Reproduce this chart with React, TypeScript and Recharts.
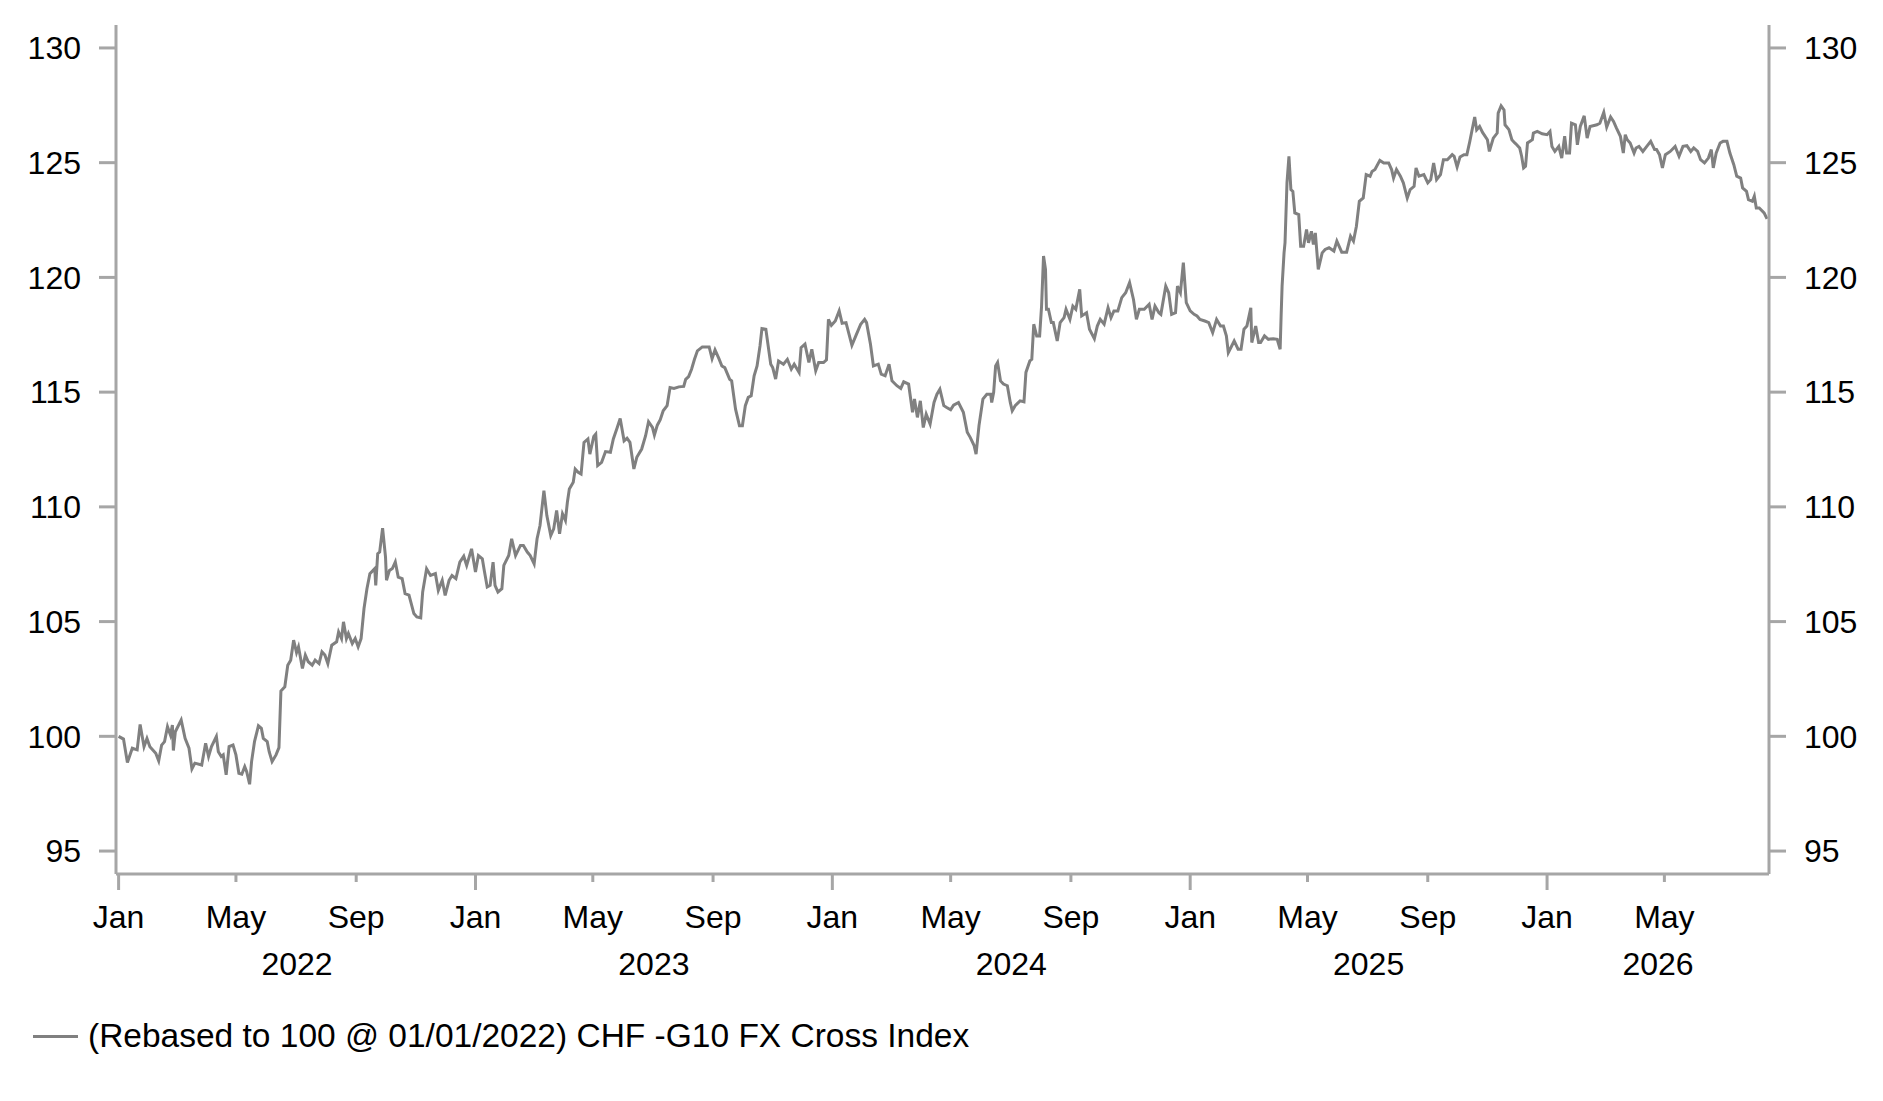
import React from 'react';
import { LineChart, Line, XAxis, YAxis } from 'recharts';

const FONT = '"Liberation Sans", Arial, Helvetica, sans-serif';
const AXIS_COLOR = '#a6a6a6';
const LINE_COLOR = '#808080';

const seriesName = '(Rebased to 100 @ 01/01/2022) CHF -G10 FX Cross Index';

// ---- series: dates (MM-DD within each year) and index values ----
const days2022 = [
  '01-01', '01-06', '01-10', '01-15', '01-20', '01-23', '01-27', '01-30', '02-02', '02-08',
  '02-11', '02-14', '02-17', '02-20', '02-23', '02-25', '02-26', '02-28', '03-06', '03-10',
  '03-14', '03-17', '03-20', '03-27', '03-31', '04-03', '04-06', '04-11', '04-13', '04-16',
  '04-18', '04-21', '04-24', '04-28', '05-01', '05-04', '05-07', '05-10', '05-12', '05-15',
  '05-17', '05-20', '05-24', '05-27', '05-29', '06-02', '06-04', '06-07', '06-11', '06-14',
  '06-16', '06-20', '06-23', '06-26', '06-29', '07-02', '07-04', '07-08', '07-11', '07-14',
  '07-18', '07-21', '07-25', '07-28', '07-31', '08-03', '08-07', '08-12', '08-14', '08-17',
  '08-19', '08-22', '08-24', '08-28', '08-31', '09-03', '09-06', '09-09', '09-12', '09-15',
  '09-20', '09-21', '09-23', '09-25', '09-28', '10-01', '10-02', '10-05', '10-08', '10-11',
  '10-14', '10-18', '10-21', '10-25', '10-30', '11-02', '11-06', '11-08', '11-12', '11-16',
  '11-21', '11-24', '11-28', '12-01', '12-05', '12-08', '12-12', '12-16', '12-20', '12-23',
  '12-28',
];
const vals2022 = [
  100.0, 99.88, 98.86, 99.48, 99.41, 100.52, 99.55, 99.91, 99.55, 99.26,
  98.93, 99.62, 99.77, 100.42, 100.06, 100.49, 99.38, 100.2, 100.71, 99.91,
  99.48, 98.58, 98.83, 98.75, 99.7, 99.12, 99.55, 99.99, 99.33, 99.12,
  99.19, 98.32, 99.55, 99.62, 99.19, 98.39, 98.35, 98.68, 98.46, 97.91,
  98.9, 99.77, 100.46, 100.35, 99.91, 99.77, 99.33, 98.9, 99.19, 99.51,
  101.97, 102.16, 103.1, 103.32, 104.19, 103.65, 103.9, 102.96, 103.54, 103.25,
  103.1, 103.32, 103.17, 103.68, 103.54, 103.17, 103.97, 104.12, 104.55, 104.26,
  104.99, 104.26, 104.48, 104.04, 104.26, 103.9, 104.26, 105.57, 106.43, 107.09,
  107.31, 106.58, 107.96, 108.03, 109.07, 107.81, 106.8, 107.23, 107.31, 107.6,
  106.94, 106.87, 106.22, 106.15, 105.35, 105.2, 105.16, 106.29, 107.3, 107.01,
  107.09, 106.36, 106.8, 106.14, 106.8, 107.01, 106.87, 107.59, 107.85, 107.45,
  108.17,
];

const days2023 = [
  '01-01', '01-04', '01-08', '01-10', '01-13', '01-16', '01-19', '01-21', '01-24', '01-28',
  '01-30', '02-04', '02-07', '02-11', '02-16', '02-19', '02-23', '02-26', '03-02', '03-05',
  '03-08', '03-12', '03-15', '03-19', '03-22', '03-25', '03-28', '03-31', '04-03', '04-05',
  '04-07', '04-11', '04-13', '04-16', '04-19', '04-22', '04-26', '04-28', '05-02', '05-04',
  '05-06', '05-10', '05-14', '05-19', '05-22', '05-26', '05-29', '06-02', '06-05', '06-08',
  '06-12', '06-15', '06-20', '06-24', '06-27', '07-01', '07-03', '07-06', '07-09', '07-12',
  '07-16', '07-19', '07-23', '07-28', '08-02', '08-04', '08-07', '08-10', '08-13', '08-16',
  '08-21', '08-28', '08-31', '09-03', '09-07', '09-10', '09-13', '09-18', '09-20', '09-24',
  '09-28', '10-01', '10-04', '10-07', '10-10', '10-13', '10-16', '10-19', '10-21', '10-25',
  '10-30', '11-01', '11-04', '11-07', '11-12', '11-16', '11-20', '11-23', '11-28', '11-30',
  '12-04', '12-08', '12-11', '12-15', '12-18', '12-23', '12-26', '12-28', '12-31',
];
const vals2023 = [
  107.16, 107.88, 107.74, 107.23, 106.51, 106.58, 107.59, 106.58, 106.29, 106.43,
  107.45, 107.88, 108.61, 107.88, 108.32, 108.32, 108.03, 107.88, 107.52, 108.61,
  109.19, 110.71, 109.62, 108.75, 109.04, 109.84, 108.83, 109.7, 109.41, 110.2,
  110.78, 111.07, 111.65, 111.51, 111.43, 112.81, 112.96, 112.3, 113.07, 113.17,
  111.8, 111.94, 112.41, 112.38, 112.96, 113.46, 113.85, 112.88, 112.99, 112.81,
  111.65, 112.16, 112.52, 113.1, 113.71, 113.46, 113.13, 113.56, 113.8, 114.19,
  114.41, 115.2, 115.16, 115.23, 115.25, 115.56, 115.68, 116.0, 116.43, 116.8,
  116.97, 116.97, 116.46, 116.84, 116.46, 116.14, 116.07, 115.56, 115.49, 114.26,
  113.54, 113.54, 114.41, 114.77, 114.84, 115.71, 116.14, 117.01, 117.77, 117.74,
  116.22, 116.07, 115.57, 116.36, 116.22, 116.43, 116.0, 116.22, 115.86, 116.94,
  117.09, 116.29, 116.87, 115.93, 116.29, 116.29, 116.41, 118.17, 117.91,
];

const days2024 = [
  '01-04', '01-08', '01-11', '01-15', '01-21', '01-25', '01-30', '02-03', '02-05', '02-09',
  '02-12', '02-17', '02-20', '02-24', '02-28', '03-02', '03-07', '03-11', '03-14', '03-19',
  '03-23', '03-25', '03-28', '03-31', '04-03', '04-06', '04-10', '04-14', '04-17', '04-20',
  '04-24', '04-27', '05-01', '05-04', '05-09', '05-14', '05-18', '05-21', '05-25', '05-27',
  '05-30', '06-03', '06-07', '06-11', '06-12', '06-14', '06-16', '06-18', '06-21', '06-24',
  '06-28', '07-01', '07-03', '07-06', '07-11', '07-15', '07-17', '07-21', '07-23', '07-25',
  '07-28', '07-31', '08-02', '08-04', '08-06', '08-07', '08-09', '08-12', '08-14', '08-18',
  '08-21', '08-25', '08-27', '08-31', '09-03', '09-06', '09-10', '09-12', '09-17', '09-20',
  '09-25', '09-28', '10-01', '10-05', '10-09', '10-12', '10-15', '10-19', '10-23', '10-27',
  '10-31', '11-04', '11-07', '11-10', '11-15', '11-20', '11-23', '11-26', '11-30', '12-02',
  '12-07', '12-10', '12-13', '12-17', '12-19', '12-22', '12-25', '12-28',
];
const vals2024 = [
  118.1, 118.54, 118.0, 118.03, 117.04, 117.45, 117.96, 118.17, 118.03, 117.09,
  116.14, 116.22, 115.78, 115.71, 116.22, 115.49, 115.28, 115.16, 115.45, 115.35,
  114.12, 114.7, 113.9, 114.62, 113.46, 114.04, 113.61, 114.55, 114.91, 115.13,
  114.41, 114.33, 114.23, 114.43, 114.55, 114.12, 113.25, 113.03, 112.67, 112.3,
  113.54, 114.7, 114.91, 114.91, 114.55, 114.99, 116.14, 116.29, 115.49, 115.35,
  115.28, 114.55, 114.19, 114.41, 114.62, 114.58, 115.86, 116.36, 116.43, 117.96,
  117.45, 117.45, 118.75, 120.93, 120.35, 118.61, 118.61, 118.03, 118.03, 117.23,
  118.03, 118.25, 118.61, 118.17, 118.75, 118.61, 119.48, 118.32, 118.46, 117.74,
  117.33, 117.88, 118.17, 117.96, 118.68, 118.25, 118.54, 118.54, 119.12, 119.33,
  119.77, 119.04, 118.17, 118.61, 118.61, 118.83, 118.17, 118.75, 118.46, 118.39,
  119.62, 119.33, 118.39, 118.46, 119.62, 119.33, 120.64, 118.9,
];

const days2025 = [
  '01-01', '01-05', '01-08', '01-11', '01-16', '01-20', '01-24', '01-28', '02-01', '02-04',
  '02-07', '02-09', '02-15', '02-19', '02-22', '02-25', '02-28', '03-04', '03-05', '03-09',
  '03-12', '03-14', '03-18', '03-22', '03-27', '03-31', '04-03', '04-04', '04-05', '04-07',
  '04-08', '04-10', '04-12', '04-14', '04-16', '04-18', '04-22', '04-24', '04-27', '04-30',
  '05-02', '05-05', '05-07', '05-09', '05-12', '05-16', '05-19', '05-23', '05-28', '05-31',
  '06-05', '06-10', '06-14', '06-17', '06-20', '06-23', '06-27', '06-30', '07-04', '07-06',
  '07-09', '07-14', '07-18', '07-23', '07-26', '07-28', '07-31', '08-04', '08-07', '08-11',
  '08-14', '08-18', '08-20', '08-23', '08-28', '09-01', '09-04', '09-07', '09-10', '09-14',
  '09-17', '09-21', '09-26', '09-28', '10-01', '10-04', '10-08', '10-11', '10-14', '10-16',
  '10-19', '10-21', '10-24', '10-27', '11-01', '11-03', '11-07', '11-11', '11-12', '11-15',
  '11-18', '11-19', '11-23', '11-26', '11-29', '12-01', '12-04', '12-06', '12-08', '12-10',
  '12-12', '12-17', '12-18', '12-22', '12-27',
];
const vals2025 = [
  118.54, 118.39, 118.32, 118.17, 118.1, 118.03, 117.59, 118.17, 117.88, 117.88,
  117.45, 116.72, 117.23, 116.87, 116.87, 117.74, 117.88, 118.68, 117.16, 117.88,
  117.16, 117.16, 117.45, 117.3, 117.33, 117.3, 116.87, 118.32, 119.62, 121.07,
  121.51, 124.12, 125.28, 123.83, 123.75, 122.81, 122.74, 121.36, 121.36, 122.09,
  121.51, 122.01, 121.43, 121.94, 120.35, 121.07, 121.22, 121.29, 121.15, 121.58,
  121.1, 121.1, 121.8, 121.58, 122.23, 123.32, 123.46, 124.48, 124.41, 124.62,
  124.7, 125.1, 124.99, 124.99, 124.7, 124.33, 124.7, 124.41, 124.12, 123.46,
  123.83, 123.97, 124.77, 124.41, 124.48, 124.12, 124.26, 124.99, 124.26, 124.48,
  125.13, 125.13, 125.35, 125.28, 124.81, 125.25, 125.35, 125.35, 125.93, 126.36,
  126.99, 126.43, 126.58, 126.32, 126.0, 125.49, 126.07, 126.29, 127.16, 127.48,
  127.3, 126.65, 126.44, 126.0, 125.86, 125.78, 125.64, 125.28, 124.77, 124.84,
  125.86, 126.0, 126.29, 126.36, 126.26,
];

const days2026 = [
  '01-01', '01-04', '01-06', '01-09', '01-13', '01-16', '01-19', '01-21', '01-24', '01-26',
  '01-30', '02-01', '02-04', '02-08', '02-11', '02-14', '02-21', '02-24', '02-28', '03-03',
  '03-07', '03-10', '03-13', '03-17', '03-20', '03-22', '03-24', '03-27', '03-31', '04-02',
  '04-05', '04-09', '04-13', '04-17', '04-21', '04-23', '04-26', '04-29', '05-02', '05-07',
  '05-12', '05-16', '05-20', '05-24', '05-28', '05-31', '06-04', '06-07', '06-11', '06-15',
  '06-18', '06-20', '06-23', '06-27', '06-30', '07-04', '07-07', '07-11', '07-14', '07-18',
  '07-20', '07-24', '07-26', '07-30', '08-01', '08-03', '08-06', '08-11', '08-14',
];
const vals2026 = [
  126.22, 126.36, 125.71, 125.49, 125.71, 125.2, 126.15, 125.42, 125.42, 126.72,
  126.65, 125.78, 126.58, 127.04, 126.07, 126.58, 126.65, 126.72, 127.19, 126.55,
  126.99, 126.8, 126.51, 126.15, 125.42, 126.22, 126.0, 125.86, 125.42, 125.64,
  125.71, 125.49, 125.71, 125.93, 125.57, 125.57, 125.35, 124.77, 125.35, 125.49,
  125.71, 125.28, 125.71, 125.74, 125.49, 125.64, 125.49, 125.13, 124.99, 125.2,
  125.57, 124.77, 125.42, 125.86, 125.93, 125.93, 125.42, 124.91, 124.41, 124.33,
  123.9, 123.75, 123.39, 123.32, 123.54, 123.03, 123.03, 122.81, 122.55,
];

// ---- axes ----
const monthTicks = [
  '2022-01-01', '2022-05-01', '2022-09-01',
  '2023-01-01', '2023-05-01', '2023-09-01',
  '2024-01-01', '2024-05-01', '2024-09-01',
  '2025-01-01', '2025-05-01', '2025-09-01',
  '2026-01-01', '2026-05-01',
];
const monthNames: Record<string, string> = { '01': 'Jan', '05': 'May', '09': 'Sep' };
const yearLabels = [2022, 2023, 2024, 2025, 2026];
const yTicks = [95, 100, 105, 110, 115, 120, 125, 130];
const yDomain: [number, number] = [94, 131];
const xStartIso = '2021-12-29T08:00:00Z';
const xEndIso = '2026-08-16T00:00:00Z';

// ---- build table ----
const yearBlocks = [
  { year: 2022, days: days2022, vals: vals2022 },
  { year: 2023, days: days2023, vals: vals2023 },
  { year: 2024, days: days2024, vals: vals2024 },
  { year: 2025, days: days2025, vals: vals2025 },
  { year: 2026, days: days2026, vals: vals2026 },
];
const toTs = (iso: string) => Date.parse(iso + 'T00:00:00Z');
const data: { t: number; v: number }[] = [];
yearBlocks.forEach((b) => {
  const n = Math.min(b.days.length, b.vals.length);
  for (let i = 0; i < n; i++) data.push({ t: toTs(`${b.year}-${b.days[i]}`), v: b.vals[i] });
});

const X_MIN = Date.parse(xStartIso);
const X_MAX = Date.parse(xEndIso);

type TickInfo = { kind: 'month' | 'year'; label: string; major?: boolean };
const tickInfo = new Map<number, TickInfo>();
monthTicks.forEach((m) => {
  const mm = m.slice(5, 7);
  tickInfo.set(toTs(m), { kind: 'month', label: monthNames[mm], major: mm === '01' });
});
yearLabels.forEach((y) => {
  const s = Math.max(Date.UTC(y, 0, 1), X_MIN);
  const e = Math.min(Date.UTC(y + 1, 0, 1), X_MAX);
  tickInfo.set((s + e) / 2, { kind: 'year', label: String(y) });
});
const xTicks = Array.from(tickInfo.keys()).sort((a, b) => a - b);

const XTick = (props: any) => {
  const { x, y, payload } = props;
  const info = tickInfo.get(payload.value);
  if (!info) return null;
  if (info.kind === 'month') {
    return (
      <g>
        <line x1={x} y1={y} x2={x} y2={y + (info.major ? 16 : 8)} stroke={AXIS_COLOR} strokeWidth={3} />
        <text x={x} y={y + 54} textAnchor="middle" fontSize={32} fontFamily={FONT} fill="#000">
          {info.label}
        </text>
      </g>
    );
  }
  return (
    <text x={x} y={y + 101} textAnchor="middle" fontSize={32} fontFamily={FONT} fill="#000">
      {info.label}
    </text>
  );
};

const yTickStyle = { fontSize: 32, fill: '#000', fontFamily: FONT };

export default function App() {
  return (
    <div style={{ position: 'absolute', left: 0, top: 0, width: 1883, height: 1101, background: '#fff', fontFamily: FONT }}>
      <LineChart
        width={1883}
        height={1101}
        data={data}
        margin={{ top: 25, right: 0, bottom: 27, left: 0 }}
      >
        <XAxis
          dataKey="t"
          type="number"
          domain={[X_MIN, X_MAX]}
          allowDataOverflow
          ticks={xTicks}
          interval={0}
          tick={<XTick />}
          tickLine={false}
          tickSize={0}
          tickMargin={0}
          height={200}
          axisLine={{ stroke: AXIS_COLOR, strokeWidth: 3 }}
        />
        <YAxis
          yAxisId="left"
          orientation="left"
          width={116}
          domain={yDomain}
          ticks={yTicks}
          interval={0}
          tick={yTickStyle}
          tickSize={17}
          tickMargin={18}
          tickLine={{ stroke: AXIS_COLOR, strokeWidth: 3 }}
          axisLine={{ stroke: AXIS_COLOR, strokeWidth: 3 }}
          allowDataOverflow
        />
        <YAxis
          yAxisId="right"
          orientation="right"
          width={114}
          domain={yDomain}
          ticks={yTicks}
          interval={0}
          tick={yTickStyle}
          tickSize={17}
          tickMargin={18}
          tickLine={{ stroke: AXIS_COLOR, strokeWidth: 3 }}
          axisLine={{ stroke: AXIS_COLOR, strokeWidth: 3 }}
          allowDataOverflow
        />
        <Line
          yAxisId="left"
          dataKey="v"
          name={seriesName}
          type="linear"
          stroke={LINE_COLOR}
          strokeWidth={3}
          dot={false}
          activeDot={false}
          isAnimationActive={false}
        />
      </LineChart>
      <div style={{ position: 'absolute', left: 33, top: 1035, width: 45, height: 3, background: LINE_COLOR }} />
      <div
        style={{
          position: 'absolute',
          left: 88,
          top: 1019,
          fontSize: 33.5,
          lineHeight: '33.5px',
          color: '#000',
          fontFamily: FONT,
          whiteSpace: 'nowrap',
        }}
      >
        {seriesName}
      </div>
    </div>
  );
}
